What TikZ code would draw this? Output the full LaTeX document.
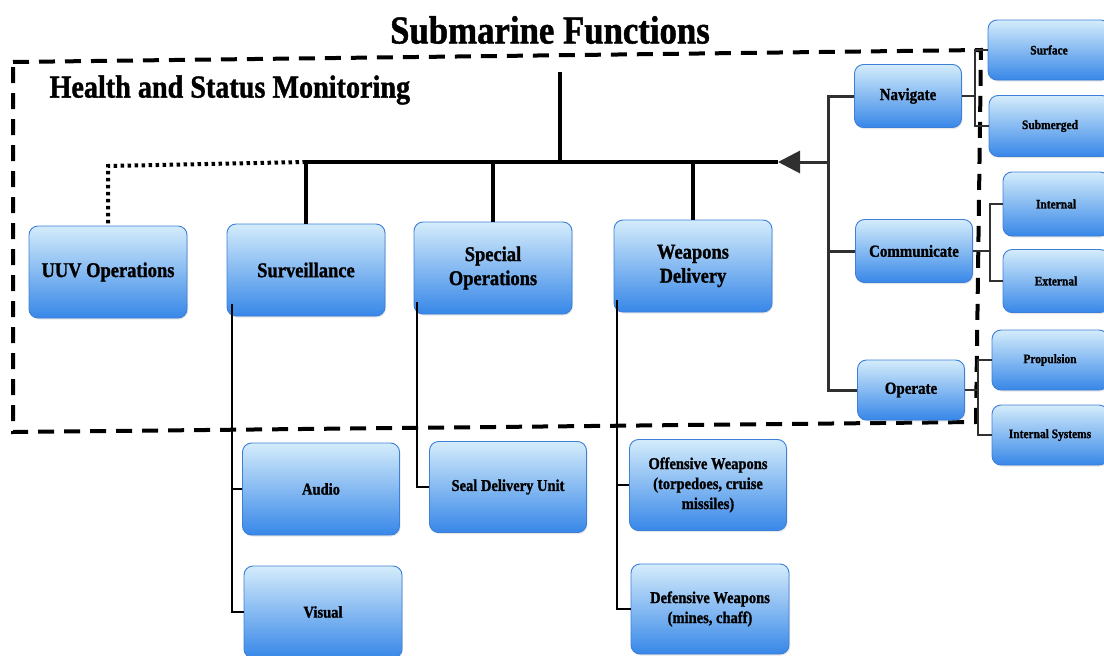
\documentclass[tikz,border=0pt]{standalone}
\usepackage{fontspec}
\setmainfont{Liberation Serif}[BoldFeatures={FakeBold=1.2,FakeStretch=0.88}]
\usetikzlibrary{arrows.meta,shadows}
\definecolor{boxtop}{HTML}{D4ECFB}
\definecolor{boxbot}{HTML}{3787E8}
\definecolor{boxedge}{HTML}{3D7FD8}
\definecolor{linegray}{HTML}{303030}
\begin{document}
\begin{tikzpicture}[x=1pt,y=-1pt,
  fbox/.style={draw=boxedge, line width=0.9pt, rounded corners=9pt,
    top color=boxtop, bottom color=boxbot, align=center, text=black,
    inner sep=1pt, drop shadow={opacity=0.2,shadow xshift=1pt,shadow yshift=-1.5pt}},
  big/.style={fbox, font=\bfseries\fontsize{21}{24}\selectfont, minimum width=158pt, minimum height=92pt},
  mid/.style={fbox, font=\bfseries\fontsize{16.5}{20}\selectfont},
  side/.style={fbox, font=\bfseries\fontsize{17}{20}\selectfont},
  small/.style={fbox, font=\bfseries\fontsize{13}{15}\selectfont},
  trunk/.style={line width=3.5pt, black},
  branch/.style={line width=2pt, black},
  rline/.style={line width=3pt, linegray},
  sline/.style={line width=1.6pt, linegray},
  boundary/.style={line width=4pt, black, dash pattern=on 16pt off 10pt},
  dotline/.style={line width=4pt, black, dash pattern=on 3.5pt off 3.5pt}
]
\useasboundingbox (0,0) rectangle (1104,656);
\clip (0,0) rectangle (1104,656);

% monitoring boundary
\draw[boundary] (13,62) -- (981,50) -- (976,422) -- (13,432) -- cycle;

% titles
\node[font=\bfseries\fontsize{39.5}{42}\selectfont] (title) at (550,30) {Submarine Functions};
\node[font=\bfseries\fontsize{32}{34}\selectfont, anchor=west] (hsm) at (46,90) {Health and Status Monitoring};

% top-level functions
\node[big] (uuv)  at (108,272) {UUV Operations};
\node[big] (surv) at (306,270) {Surveillance};
\node[big] (spec) at (493,268) {Special\\Operations};
\node[big] (weap) at (693,266) {Weapons\\Delivery};

% vehicle functions on the right
\node[side, minimum width=107pt, minimum height=63pt] (nav)  at (908,96)  {Navigate};
\node[side, minimum width=117pt, minimum height=63pt] (comm) at (914,251) {Communicate};
\node[side, minimum width=107pt, minimum height=60pt] (oper) at (911,390) {Operate};

\node[small, minimum width=122pt, minimum height=60pt] (surf) at (1049,50)  {Surface};
\node[small, minimum width=122pt, minimum height=61pt] (subm) at (1050,126) {Submerged};
\node[small, minimum width=106pt, minimum height=64pt] (inte) at (1056,204) {Internal};
\node[small, minimum width=106pt, minimum height=63pt] (exte) at (1056,281) {External};
\node[small, minimum width=116pt, minimum height=60pt] (prop) at (1050,360) {Propulsion};
\node[small, minimum width=116pt, minimum height=60pt] (isys) at (1050,435) {Internal Systems};

% sub-functions below
\node[mid, minimum width=157pt, minimum height=92pt] (audio)  at (321,489) {Audio};
\node[mid, minimum width=158pt, minimum height=92pt] (visual) at (323,612) {Visual};
\node[mid, minimum width=157pt, minimum height=91pt] (seal)   at (508,487) {Seal Delivery Unit};
\node[mid, minimum width=157pt, minimum height=91pt] (off)    at (708,485) {Offensive Weapons\\(torpedoes, cruise\\missiles)};
\node[mid, minimum width=158pt, minimum height=90pt] (def)    at (710,609) {Defensive Weapons\\(mines, chaff)};

% main bus
\coordinate (root) at (560,72);
\coordinate (busL) at (306,162);
\coordinate (busM) at (560,162);
\coordinate (busR) at (778,162);
\coordinate (rt)   at (828,162);
\coordinate (dotc) at (108,166);

\draw[trunk] (root) -- (busM);
\draw[trunk] (busL) -- (busR);
\draw[trunk] (busL) -- (surv.north);
\draw[trunk] (spec.north |- busL) -- (spec.north);
\draw[trunk] (weap.north |- busL) -- (weap.north);
\draw[dotline] (busL) -- (dotc) -- (uuv.north);

% right-hand trunk feeding the bus
\draw[rline] (nav.west) -- (nav.west -| rt) -- (oper.west -| rt) -- (oper.west);
\draw[rline] (comm.west) -- (comm.west -| rt);
\draw[rline, -{Triangle[length=22pt,width=22pt]}] (rt) -- (busR);

% right-hand sub-functions
\coordinate (nx) at (975,0);
\coordinate (cx) at (990,0);
\coordinate (ox) at (978,0);
\draw[sline] (nav.east) -- (nav.east -| nx);
\draw[sline] (surf.west) -- (surf.west -| nx) -- (subm.west -| nx) -- (subm.west);
\draw[sline] (comm.east) -- (comm.east -| cx);
\draw[sline] (inte.west) -- (inte.west -| cx) -- (exte.west -| cx) -- (exte.west);
\draw[sline] (oper.east) -- (oper.east -| ox);
\draw[sline] (prop.west) -- (prop.west -| ox) -- (isys.west -| ox) -- (isys.west);

% lower sub-function trunks
\coordinate (sv0) at (232,304);
\coordinate (sp0) at (417,302);
\coordinate (wp0) at (617,300);
\draw[branch] (sv0) |- (visual.west);
\draw[branch] (sv0 |- audio.west) -- (audio.west);
\draw[branch] (sp0) |- (seal.west);
\draw[branch] (wp0) |- (def.west);
\draw[branch] (wp0 |- off.west) -- (off.west);
\end{tikzpicture}
\end{document}
